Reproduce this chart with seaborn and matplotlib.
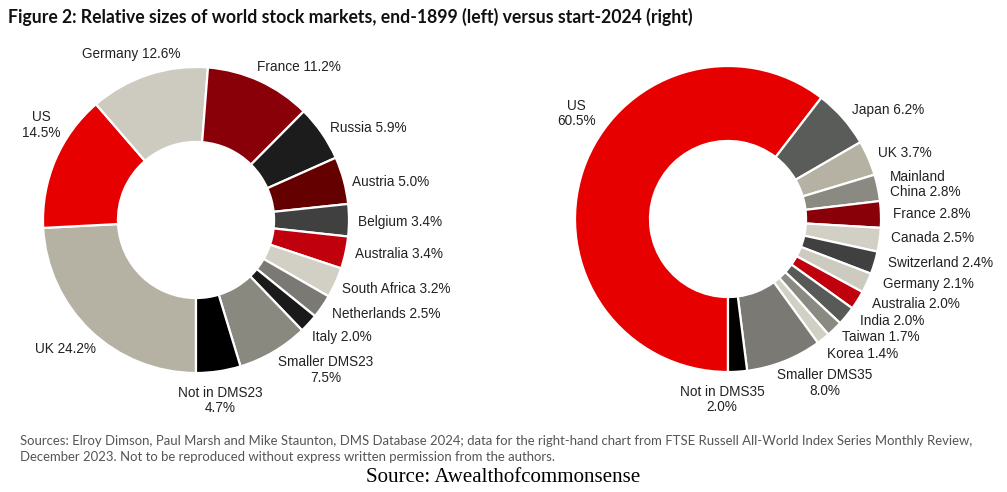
import matplotlib
matplotlib.use("Agg")
import matplotlib.pyplot as plt
import seaborn as sns

# ---------------- data ----------------
left_labels = ["UK", "US", "Germany", "France", "Russia", "Austria", "Belgium",
               "Australia", "South Africa", "Netherlands", "Italy",
               "Smaller DMS23", "Not in DMS23"]
left_values = [24.2, 14.5, 12.6, 11.2, 5.9, 5.0, 3.4, 3.4, 3.2, 2.5, 2.0, 7.5, 4.7]

right_labels = ["US", "Japan", "UK", "Mainland\nChina", "France", "Canada",
                "Switzerland", "Germany", "Australia", "India", "Taiwan", "Korea",
                "Smaller DMS35", "Not in DMS35"]
right_values = [60.5, 6.2, 3.7, 2.8, 2.8, 2.5, 2.4, 2.1, 2.0, 2.0, 1.7, 1.4, 8.0, 2.0]

title = "Figure 2: Relative sizes of world stock markets, end-1899 (left) versus start-2024 (right)"
footer1 = ("Sources: Elroy Dimson, Paul Marsh and Mike Staunton, DMS Database 2024; data for the "
           "right-hand chart from FTSE Russell All-World Index Series Monthly Review,")
footer2 = "December 2023. Not to be reproduced without express written permission from the authors."
source = "Source: Awealthofcommonsense"

# ---------------- styles / layout ----------------
left_colors = ["#b6b2a3", "#e60000", "#cdcbbf", "#8a0009", "#1c1c1c", "#640000",
               "#404040", "#c0000c", "#d2d0c4", "#7b7973", "#1a1a1a", "#898980", "#000000"]
right_colors = ["#e60000", "#5a5c5a", "#b6b2a3", "#8a8a82", "#8a0009", "#d2d0c4",
                "#404040", "#cdcbbf", "#c0000c", "#585a58", "#8a8a82", "#d2d0c4",
                "#7b7973", "#000000"]

# label anchor (dx, dy in radius units from centre), alignment, separator
left_layout = [(-0.85, -0.84, "center", " "), (-1.01, 0.62, "center", "\n"),
               (-0.42, 1.085, "center", " "), (0.67, 1.0, "center", " "),
               (0.876, 0.60, "left", " "), (1.02, 0.25, "left", " "),
               (1.06, -0.01, "left", " "), (1.04, -0.22, "left", " "),
               (0.954, -0.45, "left", " "), (0.889, -0.614, "left", " "),
               (0.758, -0.765, "left", " "), (0.85, -0.98, "center", "\n"),
               (0.16, -1.18, "center", "\n")]
right_layout = [(-0.99, 0.69, "center", "\n"), (0.81, 0.71, "left", " "),
                (0.98, 0.43, "left", " "), (1.06, 0.225, "left", " "),
                (1.08, 0.03, "left", " "), (1.065, -0.124, "left", " "),
                (1.046, -0.288, "left", " "), (1.013, -0.425, "left", " "),
                (0.94, -0.556, "left", " "), (0.863, -0.667, "left", " "),
                (0.745, -0.771, "left", " "), (0.647, -0.882, "left", " "),
                (0.634, -1.07, "center", "\n"), (-0.04, -1.18, "center", "\n")]

W, H = 1007, 492
R = 153
left_center = (196, H - 220)
right_center = (728, H - 219)

sns.set_theme(style="white")
plt.rcParams["font.family"] = ["Liberation Sans", "DejaVu Sans"]

fig = plt.figure(figsize=(W / 100, H / 100), dpi=100)
fig.patch.set_facecolor("white")
ax = fig.add_axes([0, 0, 1, 1])


def donut(values, labels, colors, layout, center):
    ax.pie(values, colors=colors, startangle=-90, counterclock=False,
           radius=R, center=center,
           wedgeprops=dict(width=R * 0.49, edgecolor="white", linewidth=1.6))
    for v, lab, (dx, dy, ha, sep) in zip(values, labels, layout):
        ax.text(center[0] + dx * R, center[1] + dy * R, f"{lab}{sep}{v:.1f}%",
                ha=ha, va="center", fontsize=9.8, color="#222222",
                linespacing=1.15, multialignment="center" if ha == "center" else "left")


donut(left_values, left_labels, left_colors, left_layout, left_center)
donut(right_values, right_labels, right_colors, right_layout, right_center)
ax.set_xlim(0, W)
ax.set_ylim(0, H)
ax.set_aspect("equal")
ax.axis("off")

t_title = fig.text(8 / W, 1 - 17 / H, title, ha="left", va="center",
                   fontsize=11, fontweight="bold", family=["Lato", "DejaVu Sans"],
                   color="#111111")
t_f1 = fig.text(20 / W, 1 - 441 / H, footer1, ha="left", va="center",
                fontsize=8.5, family=["Lato", "DejaVu Sans"], color="#555555")
t_f2 = fig.text(20 / W, 1 - 457 / H, footer2, ha="left", va="center",
                fontsize=8.5, family=["Lato", "DejaVu Sans"], color="#555555")
t_src = fig.text(503 / W, 1 - 477 / H, source, ha="center", va="center",
                 fontsize=14, family=["Liberation Serif", "DejaVu Serif"], color="#000000")

# fit text widths to the reference
renderer = fig.canvas.get_renderer()
for t, target in [(t_title, 682), (t_f1, 955), (t_src, 275)]:
    w = t.get_window_extent(renderer).width
    t.set_fontsize(t.get_fontsize() * target / w)
t_f2.set_fontsize(t_f1.get_fontsize())

fig.savefig("out.png", dpi=100, facecolor="white")
